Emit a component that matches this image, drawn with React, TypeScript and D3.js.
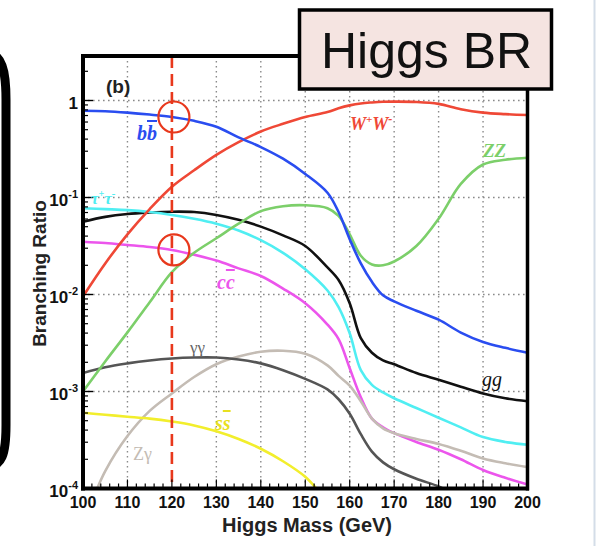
import React from "react";
import * as d3 from "d3";

const massGrid = [100, 105, 110, 115, 120, 125, 130, 135, 140, 145, 150, 155, 157.5, 160, 162.5, 165, 167.5, 170, 175, 180, 185, 190, 195, 200];

const bbBR = [0.785, 0.776, 0.75, 0.716, 0.676, 0.617, 0.537, 0.417, 0.331, 0.251, 0.175, 0.112, 0.0708, 0.0372, 0.0209, 0.0135, 0.0098, 0.0085, 0.0068, 0.0055, 0.00405, 0.00324, 0.00282, 0.00251];
const wwBR = [0.00955, 0.0209, 0.0417, 0.0759, 0.129, 0.191, 0.275, 0.372, 0.479, 0.575, 0.676, 0.759, 0.832, 0.891, 0.933, 0.955, 0.97, 0.973, 0.966, 0.923, 0.813, 0.75, 0.724, 0.708];
const zzBR = [0.001, 0.00204, 0.00407, 0.00832, 0.017, 0.0269, 0.038, 0.0537, 0.0724, 0.0813, 0.0832, 0.0776, 0.0646, 0.0417, 0.0251, 0.0204, 0.02, 0.0219, 0.0316, 0.0603, 0.138, 0.219, 0.245, 0.257];
const tautauBR = [0.0776, 0.0759, 0.0741, 0.0708, 0.0661, 0.0603, 0.0537, 0.0457, 0.0363, 0.0269, 0.0182, 0.011, 0.00741, 0.00398, 0.00166, 0.00117, 0.000977, 0.000851, 0.000676, 0.000537, 0.000427, 0.000339, 0.000302, 0.000282];
const ggBR = [0.0562, 0.0631, 0.0676, 0.07, 0.0714, 0.0708, 0.0661, 0.0589, 0.0501, 0.0407, 0.0316, 0.019, 0.0141, 0.00813, 0.00355, 0.00251, 0.00209, 0.00191, 0.00155, 0.00132, 0.00112, 0.000955, 0.000851, 0.000794];
const ccBR = [0.035, 0.0339, 0.0324, 0.0309, 0.0288, 0.0257, 0.0224, 0.0186, 0.0155, 0.0115, 0.00813, 0.0049, 0.00347, 0.00174, 0.000871, 0.000525, 0.000427, 0.000372, 0.000302, 0.000251, 0.0002, 0.000155, 0.000129, 0.00011];

const zgMass = [102.5, 105, 110, 115, 120, 125, 130, 135, 140, 145, 150, 155, 157.5, 160, 162.5, 165, 167.5, 170, 175, 180, 185, 190, 195, 200];
const zgBR = [0.0000832, 0.000151, 0.000347, 0.000631, 0.000955, 0.00141, 0.00191, 0.00229, 0.00257, 0.00263, 0.00245, 0.00186, 0.00145, 0.00115, 0.000794, 0.000525, 0.000417, 0.000372, 0.000324, 0.000288, 0.000245, 0.000204, 0.000182, 0.000166];

const gamMass = [100, 105, 110, 115, 120, 125, 130, 135, 140, 145, 150, 155, 157.5, 160, 162.5, 165, 167.5, 170, 175, 180, 182];
const gamBR = [0.00155, 0.00178, 0.00195, 0.00209, 0.00219, 0.00224, 0.00224, 0.00214, 0.00195, 0.00166, 0.00135, 0.00105, 0.000832, 0.000589, 0.000363, 0.00024, 0.000186, 0.000158, 0.000126, 0.000105, 0.0000933];

const ssMass = [100, 105, 110, 115, 120, 125, 130, 135, 140, 145, 150, 153];
const ssBR = [0.000603, 0.000575, 0.00055, 0.000525, 0.00049, 0.000447, 0.000389, 0.000324, 0.000257, 0.000191, 0.000132, 0.0000933];

const xTicks = [100, 110, 120, 130, 140, 150, 160, 170, 180, 190, 200];
const yDecades = [-4, -3, -2, -1, 0];
const markedMass = 120;
const titleText = "Higgs BR";

const series = [
  { m: massGrid, v: ggBR, color: "#111111" },
  { m: massGrid, v: tautauBR, color: "#50eef2" },
  { m: massGrid, v: ccBR, color: "#ec55ec" },
  { m: zgMass, v: zgBR, color: "#c4bcb4" },
  { m: gamMass, v: gamBR, color: "#555555" },
  { m: ssMass, v: ssBR, color: "#f2ee2c" },
  { m: massGrid, v: zzBR, color: "#7ccf6a" },
  { m: massGrid, v: wwBR, color: "#ef4836" },
  { m: massGrid, v: bbBR, color: "#2a4df0" },
];

const L = 83, R = 527.5, T = 56, B = 488.5;
const x = d3.scaleLinear().domain([100, 200]).range([L, R]);
const yTopVal = Math.pow(10, (100.5 - T) / 97);
const y = d3.scaleLog().domain([1e-4, yTopVal]).range([B, T]);

const sans = "'Liberation Sans', Arial, Helvetica, sans-serif";
const serif = "'Liberation Serif', 'Times New Roman', serif";

export default function App() {
  const line = (m: number[], v: number[]) =>
    d3
      .line<number>()
      .x((_, i) => x(m[i]))
      .y((d) => y(d))
      .curve(d3.curveCatmullRom.alpha(0.5))(v) || "";

  const minorX = d3.range(100, 201, 2);
  const minorY: number[] = [];
  for (let k = -4; k < 1; k++) for (let j = 2; j <= 9; j++) {
    const val = j * Math.pow(10, k);
    if (val < yTopVal) minorY.push(val);
  }

  const xm = x(markedMass);
  const dotted = { stroke: "#8a8a8a", strokeWidth: 1.4, strokeDasharray: "1.6,3.4" };

  return (
    <svg width={596} height={546} style={{ position: "absolute", left: 0, top: 0, background: "#fff" }}>
      <defs>
        <clipPath id="plotclip">
          <rect x={L} y={T} width={R - L} height={B - T} />
        </clipPath>
      </defs>
      <rect x={0} y={0} width={596} height={546} fill="#fff" />
      {/* left slide bracket */}
      <path d="M -14,52 C 2,54 6,70 6,100 L 6,425 C 6,455 2,466 -14,468" fill="none" stroke="#000" strokeWidth={9} />
      <line x1={594.5} y1={0} x2={594.5} y2={546} stroke="#d4dde8" strokeWidth={2} />

      {/* grid */}
      {xTicks.slice(1, -1).filter((t) => t !== markedMass).map((t) => (
        <line key={"gx" + t} x1={x(t)} x2={x(t)} y1={T} y2={B} {...dotted} />
      ))}
      {yDecades.slice(1).map((k) => (
        <line key={"gy" + k} x1={L} x2={R} y1={y(Math.pow(10, k))} y2={y(Math.pow(10, k))} {...dotted} />
      ))}

      {/* curves */}
      <g clipPath="url(#plotclip)">
        {series.map((s, i) => (
          <path key={i} d={line(s.m, s.v)} fill="none" stroke={s.color} strokeWidth={2.6} />
        ))}
      </g>

      {/* marked mass line and circles */}
      <line x1={xm} x2={xm} y1={T} y2={B} stroke="#e8381c" strokeWidth={2.6} strokeDasharray="12,6" />
      <circle cx={xm + 2} cy={y(bbBR[massGrid.indexOf(markedMass)])} r={15.5} fill="none" stroke="#e8381c" strokeWidth={2.2} />
      <circle cx={xm + 2} cy={y(ccBR[massGrid.indexOf(markedMass)])} r={15.5} fill="none" stroke="#e8381c" strokeWidth={2.2} />

      {/* ticks */}
      {minorX.map((t) => (
        <line key={"tx" + t} x1={x(t)} x2={x(t)} y1={B} y2={B - (t % 10 === 0 ? 9 : 5)} stroke="#000" strokeWidth={1.2} />
      ))}
      {minorY.map((v, i) => (
        <line key={"ty" + i} x1={L} x2={L + 5} y1={y(v)} y2={y(v)} stroke="#000" strokeWidth={1.2} />
      ))}
      {yDecades.map((k) => (
        <line key={"tY" + k} x1={L} x2={L + 10} y1={y(Math.pow(10, k))} y2={y(Math.pow(10, k))} stroke="#000" strokeWidth={1.4} />
      ))}

      {/* frame */}
      <line x1={L} x2={R} y1={T} y2={T} stroke="#000" strokeWidth={4} />
      <line x1={R} x2={R} y1={T} y2={B + 2} stroke="#000" strokeWidth={3.5} />
      <line x1={L} x2={L} y1={T - 2} y2={B + 2} stroke="#000" strokeWidth={4} />
      <line x1={L - 2} x2={R + 1.5} y1={B} y2={B} stroke="#000" strokeWidth={4} />

      {/* y tick labels */}
      {yDecades.map((k) => (
        <text key={"ly" + k} x={78} y={y(Math.pow(10, k)) + 8.5} textAnchor="end" fontFamily={sans} fontWeight="bold" fontSize={17} fill="#111">
          {k === 0 ? "1" : (
            <>
              <tspan>10</tspan>
              <tspan fontSize={11} dy={-8.5}>{String(k)}</tspan>
            </>
          )}
        </text>
      ))}
      {/* x tick labels */}
      {xTicks.map((t) => (
        <text key={"lx" + t} x={x(t)} y={508} textAnchor="middle" fontFamily={sans} fontWeight="bold" fontSize={16} fill="#111">
          {t}
        </text>
      ))}
      {/* axis titles */}
      <text x={307} y={532} textAnchor="middle" fontFamily={sans} fontWeight="bold" fontSize={20} fill="#222">
        Higgs Mass (GeV)
      </text>
      <text transform="translate(46,273.5) rotate(-90)" textAnchor="middle" fontFamily={sans} fontWeight="bold" fontSize={19} fill="#222">
        Branching Ratio
      </text>
      <text x={106} y={93} fontFamily={sans} fontWeight="bold" fontSize={19} fill="#222">(b)</text>

      {/* curve labels */}
      <text x={137} y={140} fontFamily={serif} fontStyle="italic" fontWeight="bold" fontSize={20} fill="#2a4df0">
        b<tspan style={{ textDecoration: "overline" }}>b</tspan>
      </text>
      <text x={350} y={130} fontFamily={serif} fontStyle="italic" fontWeight="bold" fontSize={18} fill="#ef4836">
        W<tspan fontSize={11} dy={-7}>+</tspan><tspan dy={7}>W</tspan><tspan fontSize={12} dy={-7}>-</tspan>
      </text>
      <text x={483} y={157} fontFamily={serif} fontStyle="italic" fontWeight="bold" fontSize={19} fill="#7ccf6a">ZZ</text>
      <text x={91} y={204} fontFamily={serif} fontStyle="italic" fontWeight="bold" fontSize={17} fill="#50eef2">
        τ<tspan fontSize={10} dy={-7}>+</tspan><tspan dy={7}>τ</tspan><tspan fontSize={11} dy={-7}>-</tspan>
      </text>
      <text x={217} y={289} fontFamily={serif} fontStyle="italic" fontWeight="bold" fontSize={20} fill="#ec55ec">
        c<tspan style={{ textDecoration: "overline" }}>c</tspan>
      </text>
      <text x={482} y={386} fontFamily={serif} fontStyle="italic" fontSize={20} fill="#111">gg</text>
      <text x={190} y={353} fontFamily={serif} fontSize={17} fill="#666">γγ</text>
      <text x={215} y={430} fontFamily={serif} fontStyle="italic" fontWeight="bold" fontSize={20} fill="#e8e020">
        s<tspan style={{ textDecoration: "overline" }}>s</tspan>
      </text>
      <text x={133} y={460} fontFamily={serif} fontSize={18} fill="#c4bcb4">Zγ</text>

      {/* title box */}
      <rect x={299.5} y={10} width={252} height={79} fill="#f5e4e1" stroke="#000" strokeWidth={3.5} />
      <text x={321} y={68} fontFamily={sans} fontSize={50} fill="#111">{titleText}</text>
    </svg>
  );
}
